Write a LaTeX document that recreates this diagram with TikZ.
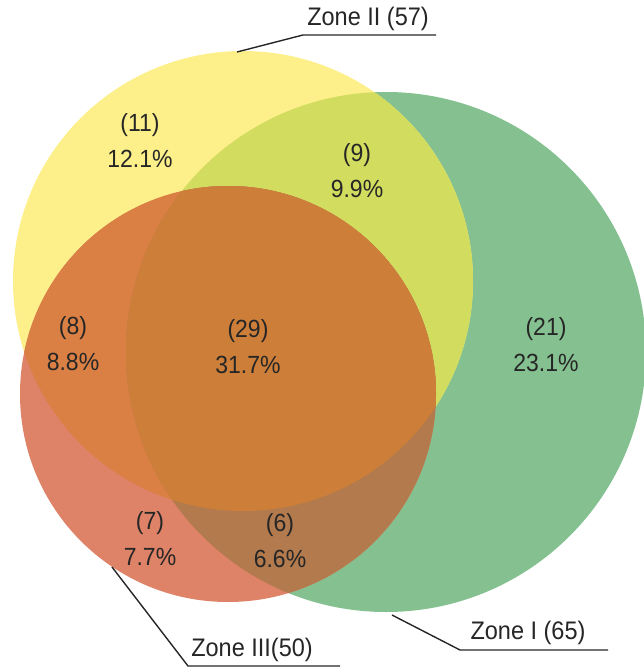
\documentclass[tikz,border=0pt]{standalone}
\usepackage{graphicx}
\usepackage{fontspec}
\setmainfont{Liberation Sans}
\definecolor{gonly}{HTML}{85C190}
\definecolor{yonly}{HTML}{FDF08A}
\definecolor{ygcol}{HTML}{D2DC5E}
\definecolor{ronly}{HTML}{DE8268}
\definecolor{rycol}{HTML}{DB8045}
\definecolor{rgcol}{HTML}{B27A4D}
\definecolor{rygcol}{HTML}{CD7F3A}
\definecolor{txt}{HTML}{262626}
\newcommand{\tallt}[1]{\scalebox{1}[1.08]{#1}}
\tikzset{
  val/.style={font=\fontsize{23}{27}\selectfont, text=txt, inner sep=0pt, align=center},
  zlbl/.style={font=\fontsize{23.5}{27}\selectfont, text=txt, inner sep=0pt},
  leader/.style={draw=txt, line width=1.4pt}
}
\begin{document}
\begin{tikzpicture}[x=1pt,y=-1pt]
\useasboundingbox (0,0) rectangle (643,669);
\coordinate (G) at (386,352);
\coordinate (Y) at (243,281);
\coordinate (R) at (228,394);
% regions
\fill[gonly] (G) circle (260pt);
\fill[yonly] (Y) circle (230pt);
\begin{scope}
  \clip (Y) circle (230pt);
  \fill[ygcol] (G) circle (260pt);
\end{scope}
\fill[ronly] (R) circle (208pt);
\begin{scope}
  \clip (R) circle (208pt);
  \fill[rycol] (Y) circle (230pt);
  \fill[rgcol] (G) circle (260pt);
  \begin{scope}
    \clip (Y) circle (230pt);
    \fill[rygcol] (G) circle (260pt);
  \end{scope}
\end{scope}
% values
\node[val] (v11) at (140,141) {\tallt{(11)}\\[9pt]\tallt{12.1\%}};
\node[val] (v9) at (357,171) {\tallt{(9)}\\[9pt]\tallt{9.9\%}};
\node[val] (v8) at (73,344) {\tallt{(8)}\\[9pt]\tallt{8.8\%}};
\node[val] (v29) at (248,347) {\tallt{(29)}\\[9pt]\tallt{31.7\%}};
\node[val] (v21) at (546,345) {\tallt{(21)}\\[9pt]\tallt{23.1\%}};
\node[val] (v7) at (150,539) {\tallt{(7)}\\[9pt]\tallt{7.7\%}};
\node[val] (v6) at (280,541) {\tallt{(6)}\\[9pt]\tallt{6.6\%}};
% zone labels
\node[zlbl] (z2) at (368,19) {\tallt{Zone II (57)}};
\node[zlbl] (z3) at (252,650) {\tallt{Zone III(50)}};
\node[zlbl] (z1) at (528,633) {\tallt{Zone I (65)}};
\coordinate (z2a) at (237,52);
\coordinate (z2b) at (303,35);
\coordinate (z2c) at (436,35);
\coordinate (z3a) at (112,567);
\coordinate (z3b) at (188,666);
\coordinate (z3c) at (340,666);
\coordinate (z1a) at (392,615);
\coordinate (z1b) at (460,650);
\coordinate (z1c) at (608,650);
\draw[leader] (z2a) -- (z2b) -- (z2c);
\draw[leader] (z3a) -- (z3b) -- (z3c);
\draw[leader] (z1a) -- (z1b) -- (z1c);
\end{tikzpicture}
\end{document}
